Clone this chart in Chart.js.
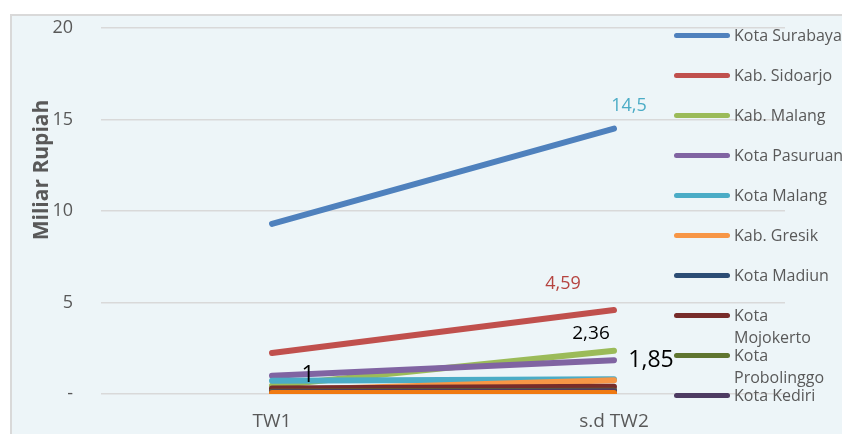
<!DOCTYPE html>
<html>
<head>
<meta charset="utf-8">
<script src="https://cdn.jsdelivr.net/npm/chart.js@4/dist/chart.umd.min.js"></script>
<style>
  html, body { margin: 0; padding: 0; background: #ffffff; }
  #wrap { position: relative; width: 842px; height: 434px; overflow: hidden; }
  #panel { position: absolute; left: 10px; top: 14px; right: 0; bottom: 0;
           background: #EDF5F8; border-top: 2px solid #D9D9D9; border-left: 2px solid #D9D9D9; }
  #c { position: absolute; left: 0; top: 0; }
  #legend { position: absolute; left: 0; top: 0; width: 842px; height: 434px; pointer-events: none;
            font-family: "Open Sans", sans-serif; font-size: 16px; color: #595959; }
  .sw { position: absolute; left: 674px; width: 56px; height: 5px; border-radius: 3px; }
  .tx { position: absolute; left: 734px; line-height: 22px; white-space: nowrap; }
</style>
</head>
<body>
<div id="wrap">
  <div id="panel"></div>
  <canvas id="c" width="842" height="434"></canvas>
  <div id="legend"></div>
</div>
<script>
// Periods on the x axis
const periods = ['TW1', 's.d TW2'];

// Region names (legend order)
const regions = [
  'Kota Surabaya', 'Kab. Sidoarjo', 'Kab. Malang', 'Kota Pasuruan', 'Kota Malang',
  'Kab. Gresik', 'Kota Madiun', 'Kota Mojokerto', 'Kota Probolinggo', 'Kota Kediri', 'Lainnya'
];

// Values in billions of rupiah, one pair [TW1, s.d TW2] per region
const kotaSurabaya    = [9.3, 14.5];
const kabSidoarjo     = [2.24, 4.59];
const kabMalang       = [0.45, 2.36];
const kotaPasuruan    = [1.0, 1.85];
const kotaMalang      = [0.72, 0.8];
const kabGresik       = [0.2, 0.75];
const kotaMadiun      = [0.15, 0.2];
const kotaMojokerto   = [0.3, 0.4];
const kotaProbolinggo = [0.12, 0.18];
const kotaKediri      = [0.1, 0.15];
const lainnya         = [0.05, 0.05];

const seriesValues = [kotaSurabaya, kabSidoarjo, kabMalang, kotaPasuruan, kotaMalang,
  kabGresik, kotaMadiun, kotaMojokerto, kotaProbolinggo, kotaKediri, lainnya];

const seriesColors = ['#4F81BD', '#C0504D', '#9BBB59', '#8064A2', '#4BACC6',
  '#F79646', '#2C4D75', '#772C2A', '#5F7530', '#4D3B62', '#F07A12'];

// Y axis ticks
const yTicks = [0, 5, 10, 15, 20];
const yTickLabels = ['-', '5', '10', '15', '20'];

// Value labels: [series index, period index, colour, font size, dx, dy]
const valueLabels = [
  [0, 1, '#4BACC6', 18, 15, -23],
  [1, 1, '#B5433F', 18, -51, -26],
  [2, 1, '#000000', 19, -23, -17],
  [3, 1, '#000000', 23, 37, 0],
  [3, 0, '#000000', 23, 36, 0]
];

const FONT = '"Open Sans", sans-serif';
const fmt = v => String(v).replace('.', ',');

const datasets = seriesValues.map((vals, i) => ({
  label: regions[i],
  data: vals,
  borderColor: seriesColors[i],
  backgroundColor: seriesColors[i],
  borderWidth: 6,
  borderCapStyle: 'round',
  pointRadius: 0,
  pointHoverRadius: 0,
  tension: 0,
  order: seriesValues.length - i
}));

const labelPlugin = {
  id: 'valueLabels',
  afterDatasetsDraw(chart) {
    const { ctx, scales } = chart;
    ctx.save();
    ctx.textAlign = 'center';
    ctx.textBaseline = 'middle';
    valueLabels.forEach(([s, p, color, size, dx, dy]) => {
      const v = seriesValues[s][p];
      const x = scales.x.getPixelForValue(p) + dx;
      const y = scales.y.getPixelForValue(v) + dy;
      ctx.font = size + 'px ' + FONT;
      ctx.fillStyle = color;
      ctx.fillText(fmt(v), x, y);
    });
    ctx.restore();
  }
};

const axisTitlePlugin = {
  id: 'axisTitle',
  afterDraw(chart) {
    const { ctx } = chart;
    ctx.save();
    ctx.translate(42, 170);
    ctx.rotate(-Math.PI / 2);
    ctx.font = 'bold 21px ' + FONT;
    ctx.fillStyle = '#595959';
    ctx.textAlign = 'center';
    ctx.textBaseline = 'middle';
    ctx.fillText('Miliar Rupiah', 0, 0);
    ctx.restore();
  }
};

new Chart(document.getElementById('c'), {
  type: 'line',
  data: { labels: periods, datasets },
  options: {
    responsive: false,
    animation: false,
    layout: { padding: { left: 0, right: 57, top: 28, bottom: 0 } },
    plugins: { legend: { display: false }, tooltip: { enabled: false } },
    scales: {
      x: {
        offset: true,
        grid: { display: false, drawTicks: false },
        border: { display: false },
        ticks: { color: '#595959', font: { family: 'Open Sans', size: 19 }, padding: 16 },
        afterFit(scale) { scale.height = 40; }
      },
      y: {
        min: 0, max: 20,
        afterBuildTicks(scale) { scale.ticks = yTicks.map(v => ({ value: v })); },
        grid: { color: '#D9D9D9', lineWidth: 1.5, drawTicks: false },
        border: { display: false },
        ticks: {
          color: '#595959', font: { family: 'Open Sans', size: 18 }, padding: 28,
          callback: (v) => yTickLabels[yTicks.indexOf(v)]
        },
        afterFit(scale) {
          scale.width = 101;
          scale.paddingTop = 0;
          scale.paddingBottom = 0;
        }
      }
    }
  },
  plugins: [labelPlugin, axisTitlePlugin]
});

// Legend drawn as HTML over the right edge of the plot
const legend = document.getElementById('legend');
regions.slice(0, 10).forEach((name, i) => {
  const y = 35 + 40 * i;
  const sw = document.createElement('div');
  sw.className = 'sw';
  sw.style.top = (y - 2.5) + 'px';
  sw.style.background = seriesColors[i];
  legend.appendChild(sw);
  const tx = document.createElement('div');
  tx.className = 'tx';
  tx.style.top = (y - 11) + 'px';
  tx.innerHTML = name.length > 13 ? name.replace(' ', '<br>') : name;
  legend.appendChild(tx);
});
</script>
</body>
</html>
